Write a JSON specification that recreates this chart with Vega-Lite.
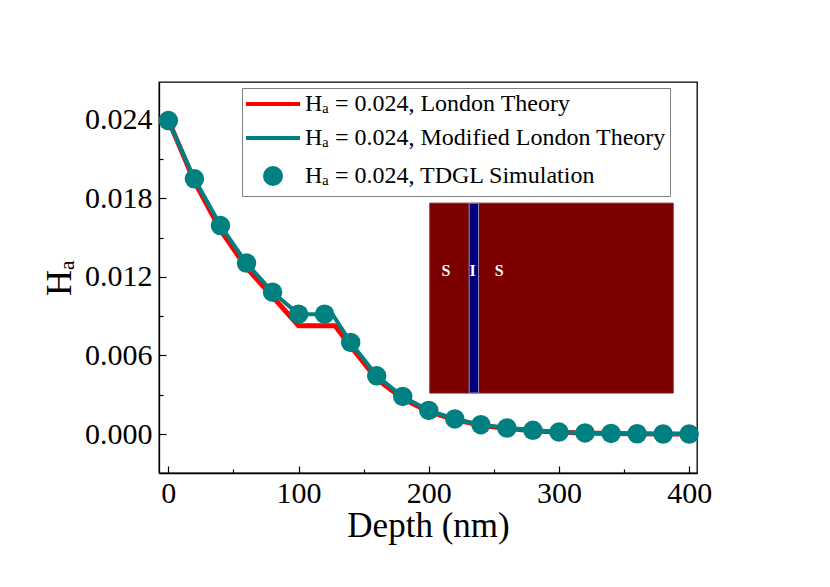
{
  "$schema": "https://vega.github.io/schema/vega-lite/v6.json",
  "width": 538,
  "height": 391,
  "autosize": {"type": "none"},
  "padding": {"left": 159, "top": 82, "right": 133, "bottom": 114},
  "background": "white",
  "config": {
    "view": {"stroke": "black", "strokeWidth": 1.3},
    "axis": {"grid": false, "domainColor": "black", "domainWidth": 1.3, "tickColor": "black", "tickWidth": 1.2, "labelColor": "black", "titleColor": "black", "labelFont": "Liberation Serif", "titleFont": "Liberation Serif", "titleFontWeight": "normal"}
  },
  "datasets": {
    "london": [
      {"series": "Hₐ = 0.024, London Theory", "depth": 0, "ha": 0.0240},
      {"series": "Hₐ = 0.024, London Theory", "depth": 20, "ha": 0.0193},
      {"series": "Hₐ = 0.024, London Theory", "depth": 40, "ha": 0.0156},
      {"series": "Hₐ = 0.024, London Theory", "depth": 60, "ha": 0.0127},
      {"series": "Hₐ = 0.024, London Theory", "depth": 80, "ha": 0.0105},
      {"series": "Hₐ = 0.024, London Theory", "depth": 100, "ha": 0.00827},
      {"series": "Hₐ = 0.024, London Theory", "depth": 128, "ha": 0.00827},
      {"series": "Hₐ = 0.024, London Theory", "depth": 140, "ha": 0.0067},
      {"series": "Hₐ = 0.024, London Theory", "depth": 160, "ha": 0.0042},
      {"series": "Hₐ = 0.024, London Theory", "depth": 180, "ha": 0.0027},
      {"series": "Hₐ = 0.024, London Theory", "depth": 200, "ha": 0.0017},
      {"series": "Hₐ = 0.024, London Theory", "depth": 220, "ha": 0.0011},
      {"series": "Hₐ = 0.024, London Theory", "depth": 240, "ha": 0.00066},
      {"series": "Hₐ = 0.024, London Theory", "depth": 260, "ha": 0.00042},
      {"series": "Hₐ = 0.024, London Theory", "depth": 280, "ha": 0.00025},
      {"series": "Hₐ = 0.024, London Theory", "depth": 300, "ha": 0.00014},
      {"series": "Hₐ = 0.024, London Theory", "depth": 320, "ha": 0.00007},
      {"series": "Hₐ = 0.024, London Theory", "depth": 340, "ha": 0.00004},
      {"series": "Hₐ = 0.024, London Theory", "depth": 360, "ha": 0.00002},
      {"series": "Hₐ = 0.024, London Theory", "depth": 380, "ha": 0.0},
      {"series": "Hₐ = 0.024, London Theory", "depth": 400, "ha": 0.0}
    ],
    "modified": [
      {"series": "Hₐ = 0.024, Modified London Theory", "depth": 0, "ha": 0.02395},
      {"series": "Hₐ = 0.024, Modified London Theory", "depth": 20, "ha": 0.0195},
      {"series": "Hₐ = 0.024, Modified London Theory", "depth": 40, "ha": 0.01593},
      {"series": "Hₐ = 0.024, Modified London Theory", "depth": 60, "ha": 0.01306},
      {"series": "Hₐ = 0.024, Modified London Theory", "depth": 80, "ha": 0.01084},
      {"series": "Hₐ = 0.024, Modified London Theory", "depth": 100, "ha": 0.00916},
      {"series": "Hₐ = 0.024, Modified London Theory", "depth": 120, "ha": 0.00916},
      {"series": "Hₐ = 0.024, Modified London Theory", "depth": 126, "ha": 0.00916},
      {"series": "Hₐ = 0.024, Modified London Theory", "depth": 140, "ha": 0.0070},
      {"series": "Hₐ = 0.024, Modified London Theory", "depth": 160, "ha": 0.00445},
      {"series": "Hₐ = 0.024, Modified London Theory", "depth": 180, "ha": 0.00287},
      {"series": "Hₐ = 0.024, Modified London Theory", "depth": 200, "ha": 0.0018},
      {"series": "Hₐ = 0.024, Modified London Theory", "depth": 220, "ha": 0.00115},
      {"series": "Hₐ = 0.024, Modified London Theory", "depth": 240, "ha": 0.00071},
      {"series": "Hₐ = 0.024, Modified London Theory", "depth": 260, "ha": 0.00046},
      {"series": "Hₐ = 0.024, Modified London Theory", "depth": 280, "ha": 0.00028},
      {"series": "Hₐ = 0.024, Modified London Theory", "depth": 300, "ha": 0.00015},
      {"series": "Hₐ = 0.024, Modified London Theory", "depth": 320, "ha": 0.00008},
      {"series": "Hₐ = 0.024, Modified London Theory", "depth": 340, "ha": 0.00004},
      {"series": "Hₐ = 0.024, Modified London Theory", "depth": 360, "ha": 0.00002},
      {"series": "Hₐ = 0.024, Modified London Theory", "depth": 380, "ha": 0.0},
      {"series": "Hₐ = 0.024, Modified London Theory", "depth": 400, "ha": 0.0}
    ],
    "tdgl": [
      {"series": "Hₐ = 0.024, TDGL Simulation", "depth": 0, "ha": 0.02395},
      {"series": "Hₐ = 0.024, TDGL Simulation", "depth": 20, "ha": 0.0195},
      {"series": "Hₐ = 0.024, TDGL Simulation", "depth": 40, "ha": 0.01593},
      {"series": "Hₐ = 0.024, TDGL Simulation", "depth": 60, "ha": 0.01306},
      {"series": "Hₐ = 0.024, TDGL Simulation", "depth": 80, "ha": 0.01084},
      {"series": "Hₐ = 0.024, TDGL Simulation", "depth": 100, "ha": 0.00916},
      {"series": "Hₐ = 0.024, TDGL Simulation", "depth": 120, "ha": 0.00916},
      {"series": "Hₐ = 0.024, TDGL Simulation", "depth": 140, "ha": 0.0070},
      {"series": "Hₐ = 0.024, TDGL Simulation", "depth": 160, "ha": 0.00445},
      {"series": "Hₐ = 0.024, TDGL Simulation", "depth": 180, "ha": 0.00287},
      {"series": "Hₐ = 0.024, TDGL Simulation", "depth": 200, "ha": 0.0018},
      {"series": "Hₐ = 0.024, TDGL Simulation", "depth": 220, "ha": 0.00115},
      {"series": "Hₐ = 0.024, TDGL Simulation", "depth": 240, "ha": 0.00071},
      {"series": "Hₐ = 0.024, TDGL Simulation", "depth": 260, "ha": 0.00046},
      {"series": "Hₐ = 0.024, TDGL Simulation", "depth": 280, "ha": 0.00028},
      {"series": "Hₐ = 0.024, TDGL Simulation", "depth": 300, "ha": 0.00015},
      {"series": "Hₐ = 0.024, TDGL Simulation", "depth": 320, "ha": 0.00008},
      {"series": "Hₐ = 0.024, TDGL Simulation", "depth": 340, "ha": 0.00004},
      {"series": "Hₐ = 0.024, TDGL Simulation", "depth": 360, "ha": 0.00002},
      {"series": "Hₐ = 0.024, TDGL Simulation", "depth": 380, "ha": 0.0},
      {"series": "Hₐ = 0.024, TDGL Simulation", "depth": 400, "ha": 0.0}
    ],
    "inset": [
      {"region": "S", "x0": 200.8, "x1": 387.7, "y0": 0.00313, "y1": 0.01764, "fill": "superconductor"},
      {"region": "I", "x0": 231.0, "x1": 238.2, "y0": 0.00313, "y1": 0.01764, "fill": "insulator"}
    ],
    "insetLabels": [
      {"label": "S", "xpos": 213.1, "ypos": 0.01247},
      {"label": "I", "xpos": 233.6, "ypos": 0.01247},
      {"label": "S", "xpos": 254.1, "ypos": 0.01247}
    ]
  },
  "resolve": {"axis": {"x": "independent", "y": "independent"}},
  "layer": [
    {
      "data": {"name": "inset"},
      "mark": {"type": "rect", "strokeWidth": 1},
      "encoding": {
        "x": {"field": "x0", "type": "quantitative", "scale": {"domain": [-7.2, 406], "nice": false, "zero": false}, "axis": null},
        "x2": {"field": "x1"},
        "y": {"field": "y0", "type": "quantitative", "scale": {"domain": [-0.00298, 0.0269], "nice": false, "zero": false}, "axis": null},
        "y2": {"field": "y1"},
        "fill": {"field": "fill", "type": "nominal", "scale": {"domain": ["superconductor", "insulator"], "range": ["#7c0000", "#00007f"]}, "legend": null},
        "stroke": {"field": "fill", "type": "nominal", "scale": {"domain": ["superconductor", "insulator"], "range": ["#8a1a1a", "#8f8fb5"]}, "legend": null}
      }
    },
    {
      "data": {"name": "insetLabels"},
      "mark": {"type": "text", "font": "Liberation Serif", "fontWeight": "bold", "fontSize": 16, "color": "white", "baseline": "middle", "align": "center"},
      "encoding": {
        "x": {"field": "xpos", "type": "quantitative", "axis": null},
        "y": {"field": "ypos", "type": "quantitative", "axis": null},
        "text": {"field": "label"}
      }
    },
    {
      "data": {"name": "london"},
      "mark": {"type": "line", "strokeWidth": 5},
      "encoding": {
        "x": {"field": "depth", "type": "quantitative", "axis": {"orient": "bottom", "values": [0, 100, 200, 300, 400], "tickSize": -7, "labelFontSize": 30, "labelPadding": 12, "title": "Depth (nm)", "titleFontSize": 35, "titlePadding": 0}},
        "y": {"field": "ha", "type": "quantitative", "axis": {"orient": "left", "values": [0, 0.006, 0.012, 0.018, 0.024], "format": ".3f", "tickSize": -7, "labelFontSize": 30, "labelPadding": 14, "title": "Hₐ", "titleFontSize": 36, "titlePadding": 6}},
        "color": {
          "field": "series", "type": "nominal",
          "scale": {"domain": ["Hₐ = 0.024, London Theory", "Hₐ = 0.024, Modified London Theory", "Hₐ = 0.024, TDGL Simulation"], "range": ["#ff0000", "#008080", "#008080"]},
          "legend": {
            "orient": "none", "legendX": 83, "legendY": 6, "title": null,
            "strokeColor": "#7f7f7f", "fillColor": "white", "padding": 4,
            "symbolSize": 256, "symbolStrokeWidth": 4, "symbolOffset": 15, "labelOffset": 20,
            "labelFont": "Liberation Serif", "labelFontSize": 24, "labelColor": "black", "labelLimit": 600,
            "rowPadding": 10,
            "encode": {
              "symbols": {
                "update": {
                  "shape": {"signal": "datum.index === 2 ? 'circle' : 'M-3.375,0H3.375'"},
                  "fill": {"signal": "datum.index === 2 ? '#008080' : 'transparent'"},
                  "stroke": {"signal": "datum.index === 0 ? '#ff0000' : '#008080'"},
                  "strokeWidth": {"value": 4},
                  "opacity": {"value": 1}
                }
              }
            }
          }
        }
      }
    },
    {
      "data": {"name": "modified"},
      "mark": {"type": "line", "strokeWidth": 4},
      "encoding": {
        "x": {"field": "depth", "type": "quantitative", "axis": {"orient": "bottom", "values": [50, 150, 250, 350], "tickSize": -4, "labels": false, "domain": false, "title": null}},
        "y": {"field": "ha", "type": "quantitative", "axis": {"orient": "left", "values": [0.003, 0.009, 0.015, 0.021], "tickSize": -4, "labels": false, "domain": false, "title": null}},
        "color": {"field": "series", "type": "nominal"}
      }
    },
    {
      "data": {"name": "tdgl"},
      "mark": {"type": "point", "filled": true, "shape": "circle", "size": 380, "opacity": 1, "strokeWidth": 0},
      "encoding": {
        "x": {"field": "depth", "type": "quantitative", "axis": null},
        "y": {"field": "ha", "type": "quantitative", "axis": null},
        "color": {"field": "series", "type": "nominal"}
      }
    }
  ]
}
